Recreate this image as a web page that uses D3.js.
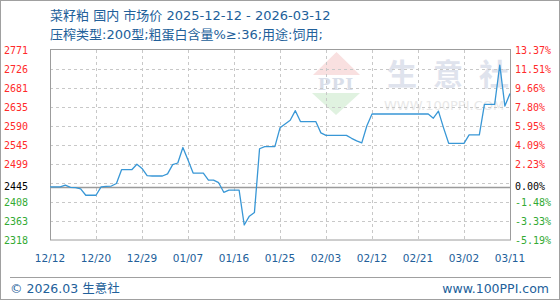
<!DOCTYPE html>
<html>
<head>
<meta charset="utf-8">
<script src="https://cdn.jsdelivr.net/npm/d3@7"></script>
<style>
  body { margin: 0; background: #fff; }
  svg { display: block; }
</style>
</head>
<body>
<svg id="chart" width="560" height="300"></svg>
<script>
// 菜籽粕 daily price, 2025-12-12 .. 2026-03-12
var prices = [
  2445, 2445, 2445, 2449, 2444, 2443, 2440, 2425, 2425, 2425,
  2445, 2446, 2447, 2453, 2486, 2486, 2486, 2499, 2489, 2472,
  2471, 2471, 2471, 2476, 2498, 2502, 2539, 2509, 2478, 2478,
  2478, 2461, 2461, 2455, 2432, 2437, 2437, 2437, 2354, 2375,
  2384, 2536, 2541, 2541, 2541, 2586, 2595, 2604, 2627, 2601,
  2601, 2601, 2601, 2574, 2568, 2568, 2568, 2568, 2568, 2561,
  2555, 2550, 2591, 2619, 2619, 2619, 2619, 2619, 2619, 2619,
  2619, 2619, 2619, 2619, 2619, 2609, 2626, 2586, 2549, 2549,
  2549, 2549, 2569, 2569, 2569, 2642, 2642, 2642, 2736, 2638,
  2668
];
var dateLabels = ["12/12", "12/20", "12/29", "01/07", "01/16", "01/25", "02/03", "02/12", "02/21", "03/02", "03/11"];
var leftLabels = [2771, 2726, 2681, 2635, 2590, 2545, 2499, 2445, 2408, 2363, 2318];
var rightLabels = ["13.37%", "11.51%", "9.66%", "7.80%", "5.95%", "4.09%", "2.23%", "0.00%", "-1.48%", "-3.33%", "-5.19%"];
var pctMax = 13.37, pctMin = -5.19;

var svg = d3.select("#chart"),
    plotL = 50, plotR = 510, plotT = 50, plotB = 240;
var base = prices[0];
var labelFont = "'DejaVu Sans', 'Noto Sans CJK SC', sans-serif";
var blue = "#22609a";

var x = d3.scaleLinear().domain([0, prices.length - 1]).range([plotL, plotR]);
var y = d3.scaleLinear()
    .domain([base * (1 + pctMin / 100), base * (1 + pctMax / 100)])
    .range([plotB, plotT]);
var crisp = function(v) { return Math.round(v) + 0.5; };

// outer frame
svg.append("rect")
    .attr("x", 0.5).attr("y", 0.5).attr("width", 559).attr("height", 299)
    .attr("fill", "none").attr("stroke", "#a0a0a0");

// title
svg.append("text")
    .attr("x", 50).attr("y", 20)
    .attr("font-family", labelFont).attr("font-size", "13px").attr("fill", blue)
    .text("菜籽粕 国内 市场价 2025-12-12 - 2026-03-12");
svg.append("text")
    .attr("x", 50).attr("y", 39)
    .attr("font-family", labelFont).attr("font-size", "13px").attr("fill", blue)
    .text("压榨类型:200型;粗蛋白含量%≥:36;用途:饲用;");

// watermark
var wm = svg.append("g");
wm.append("path")
    .attr("d", "M313,75 L360,75 L336.5,52 Z")
    .attr("fill", "#f9e0e0");
wm.append("path")
    .attr("d", "M312,93 L360,93 L336,115 Z")
    .attr("fill", "#e0f2e0");
wm.append("text")
    .attr("x", 336).attr("y", 90).attr("text-anchor", "middle")
    .attr("font-family", "'DejaVu Serif', serif").attr("font-weight", "bold")
    .attr("font-size", "17px").attr("letter-spacing", "1px").attr("fill", "#d9dee9")
    .text("PPI");
wm.selectAll(".wmchar")
    .data(["生", "意", "社"])
    .enter().append("text")
    .attr("class", "wmchar")
    .attr("x", function(d, i) { return 387 + i * 46; })
    .attr("y", 85)
    .attr("font-family", "'Noto Sans CJK SC', sans-serif").attr("font-weight", "bold")
    .attr("font-size", "30px").attr("fill", "#dfe3ed")
    .text(function(d) { return d; });
wm.append("text")
    .attr("x", 384).attr("y", 110)
    .attr("font-family", labelFont)
    .attr("font-size", "13px").attr("fill", "#e8e8e8")
    .text("WWW.100PPI.COM");

// grid
var gridVals = d3.range(11).map(function(i) {
    return y.domain()[1] - i * (y.domain()[1] - y.domain()[0]) / 10;
});
svg.append("g").selectAll("line")
    .data(gridVals.slice(1, 10))
    .enter().append("line")
    .attr("x1", plotL).attr("x2", plotR)
    .attr("y1", function(d) { return crisp(y(d)); })
    .attr("y2", function(d) { return crisp(y(d)); })
    .attr("stroke", "#c8c8c8").attr("stroke-dasharray", "3,3");

var xTickIdx = dateLabels.map(function(d, i) { return i * 9; });
svg.append("g").selectAll("line")
    .data(xTickIdx.slice(1, 10))
    .enter().append("line")
    .attr("y1", plotT).attr("y2", plotB)
    .attr("x1", function(d) { return crisp(x(d)); })
    .attr("x2", function(d) { return crisp(x(d)); })
    .attr("stroke", "#c8c8c8").attr("stroke-dasharray", "3,3");

// baseline
svg.append("line")
    .attr("x1", plotL).attr("x2", plotR)
    .attr("y1", crisp(y(base))).attr("y2", crisp(y(base)))
    .attr("stroke", "#9a9a9a").attr("stroke-width", 1.5);

// plot frame
svg.append("rect")
    .attr("x", plotL + 0.5).attr("y", plotT - 0.5)
    .attr("width", plotR - plotL).attr("height", plotB - plotT + 0.5)
    .attr("fill", "none").attr("stroke", "#9c9c9c");

// price line
var line = d3.line()
    .x(function(d, i) { return x(i); })
    .y(function(d) { return y(d); });
svg.append("path")
    .datum(prices)
    .attr("d", line)
    .attr("fill", "none")
    .attr("stroke", "#3897d6")
    .attr("stroke-width", 1.3)
    .attr("stroke-linejoin", "round");

// y labels
function tickColor(v) {
    return v > base ? "#ff2a2a" : (v < base ? "#33aa33" : "#000");
}
svg.append("g").selectAll("text")
    .data(leftLabels)
    .enter().append("text")
    .attr("x", 4)
    .attr("y", function(d) { return y(d); })
    .attr("dy", "0.35em")
    .attr("font-family", "'DejaVu Sans Mono', monospace").attr("font-size", "10px")
    .attr("fill", function(d) { return tickColor(d); })
    .text(function(d) { return d; });
svg.append("g").selectAll("text")
    .data(rightLabels)
    .enter().append("text")
    .attr("x", 515)
    .attr("y", function(d, i) { return y(leftLabels[i]); })
    .attr("dy", "0.35em")
    .attr("font-family", "'DejaVu Sans Mono', monospace").attr("font-size", "10px")
    .attr("fill", function(d, i) { return tickColor(leftLabels[i]); })
    .text(function(d) { return d; });

// x labels
svg.append("g").selectAll("text")
    .data(dateLabels)
    .enter().append("text")
    .attr("x", function(d, i) { return x(xTickIdx[i]); })
    .attr("y", 262)
    .attr("text-anchor", "middle")
    .attr("font-family", labelFont).attr("font-size", "10.5px").attr("fill", blue)
    .text(function(d) { return d; });

// footer
svg.append("line")
    .attr("x1", 10).attr("x2", 551).attr("y1", 277.5).attr("y2", 277.5)
    .attr("stroke", "#a0a0a0");
svg.append("text")
    .attr("x", 10).attr("y", 293)
    .attr("font-family", labelFont).attr("font-size", "12.5px").attr("fill", blue)
    .text("© 2026.03 生意社");
svg.append("text")
    .attr("x", 549).attr("y", 293).attr("text-anchor", "end")
    .attr("font-family", labelFont).attr("font-size", "12.5px").attr("fill", blue)
    .text("www.100PPI.com");
</script>
</body>
</html>
